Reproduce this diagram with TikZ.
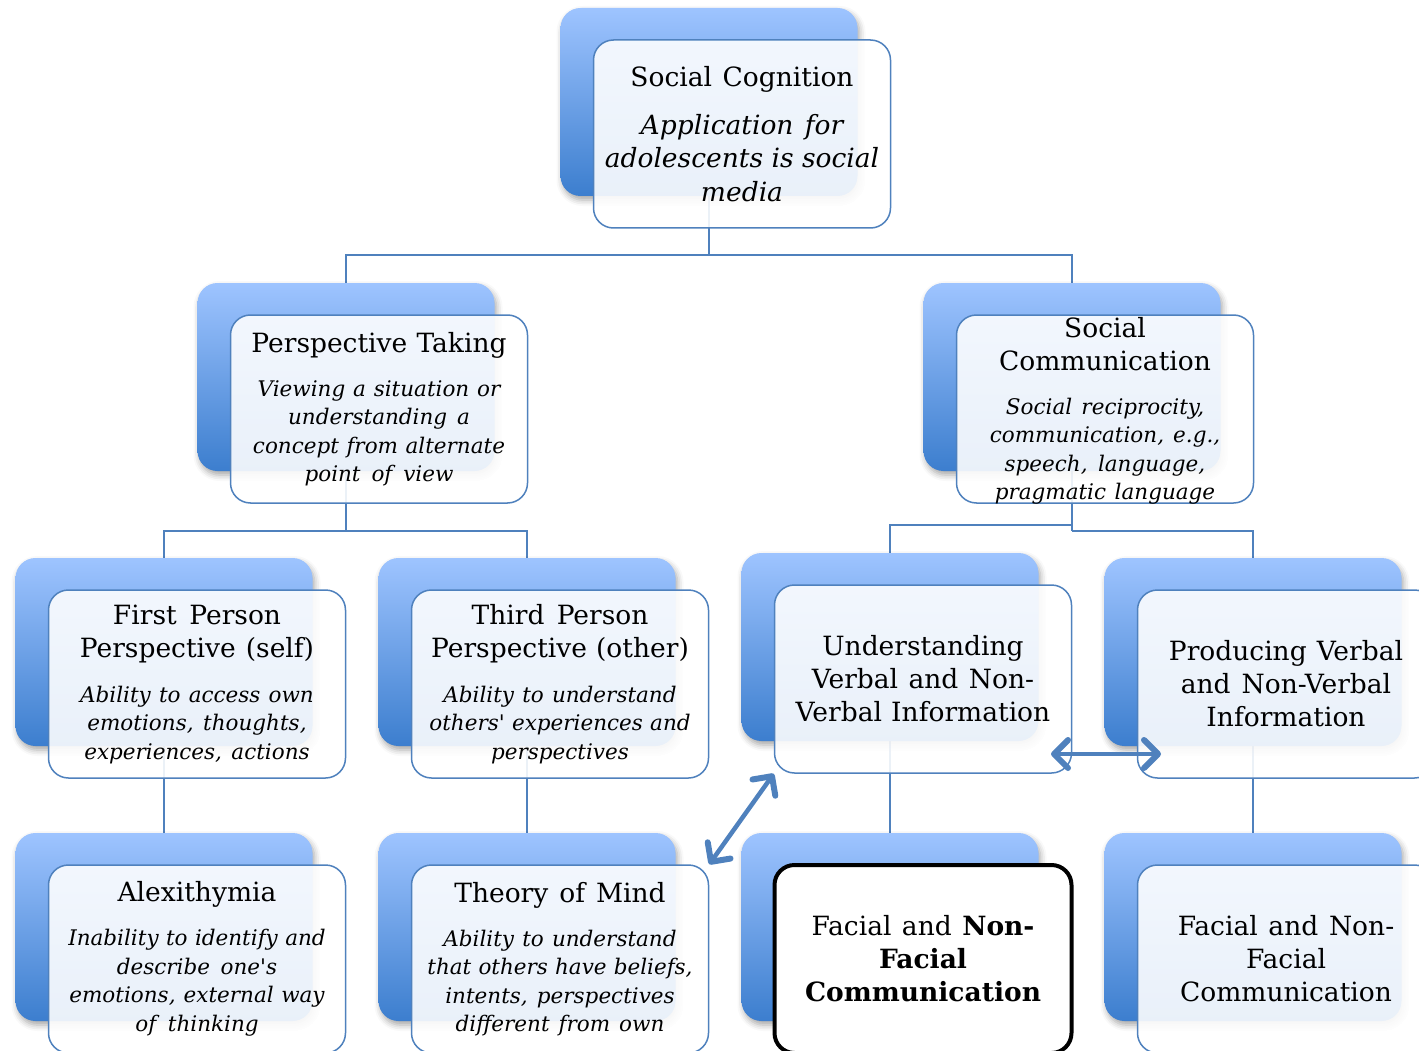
\documentclass[tikz,border=0pt]{standalone}
\usepackage{fontspec}
\setmainfont{DejaVu Serif}
\usetikzlibrary{arrows.meta,calc,shadows.blur}
\definecolor{lineblue}{RGB}{79,129,189}
\definecolor{backtop}{RGB}{158,196,255}
\definecolor{backbot}{RGB}{60,126,206}
\pgfdeclarelayer{bg}
\pgfsetlayers{bg,main}

\tikzset{
  card/.style={rectangle, rounded corners=20pt, minimum width=297pt,
    minimum height=188pt, inner sep=0pt},
  backbox/.style={card, top color=backtop, bottom color=backbot, draw=none,
    blur shadow={shadow xshift=2pt, shadow yshift=-4pt,
      shadow blur radius=6pt, shadow opacity=35}},
  frontbox/.style={card, fill=white, fill opacity=0.89, draw=lineblue,
    line width=1.5pt},
  boldbox/.style={card, fill=white, draw=black, line width=4pt},
  txt/.style={text width=340pt, align=center, inner sep=0pt, text=black},
  conn/.style={draw=lineblue, line width=2pt},
  barb/.tip={Straight Barb[length=14pt,width=28pt,line width=6pt,round]},
  dblarrow/.style={draw=lineblue, line width=4.5pt, line cap=round, barb-barb}
}

% title and description text of a card
\newcommand{\wordgap}{\spaceskip=0.22em plus 0.06em minus 0.03em\relax}
\newcommand{\ttl}[1]{{\fontsize{26.5}{33}\selectfont\wordgap #1\par}}
\newcommand{\dsc}[1]{{\fontsize{21.5}{28.5}\selectfont\itshape\wordgap #1\par}}
\newcommand{\dscbig}[1]{{\fontsize{26.5}{33.5}\selectfont\itshape\wordgap #1\par}}

% a blue back card with a light card laid over it
\newcommand{\cardpair}[4]{%
  \node[backbox] (#1B) at (#2,#3) {};
  \node[#4] (#1F) at ($(#1B.center)+(33,32)$) {};}

\begin{document}
\begin{tikzpicture}[x=1pt,y=-1pt]
\useasboundingbox (0,0) rectangle (1419,1051);
\clip (0,0) rectangle (1419,1051);

% cards
\cardpair{sc}{709}{102}{frontbox}
\cardpair{pt}{346}{377}{frontbox}
\cardpair{cm}{1072}{377}{frontbox}
\cardpair{fp}{164}{652}{frontbox}
\cardpair{tp}{527}{652}{frontbox}
\cardpair{uv}{890}{647}{frontbox}
\cardpair{pv}{1253}{652}{frontbox}
\cardpair{al}{164}{927}{frontbox}
\cardpair{tm}{527}{927}{frontbox}
\cardpair{fn}{890}{927}{boldbox}
\cardpair{fr}{1253}{927}{frontbox}

% texts
\node[txt] (scT) at (scF.center) {\ttl{Social Cognition}\vskip 14.5pt
  \dscbig{Application for\\adolescents is social\\media}};
\node[txt] (ptT) at (ptF.center) {\ttl{Perspective Taking}\vskip 15.5pt
  \dsc{Viewing a situation or\\understanding a\\concept from alternate\\point of view}};
\node[txt] (cmT) at ($(cmF.center)+(0,2)$) {\ttl{Social\\Communication}\vskip 15.5pt
  \dsc{Social reciprocity,\\communication, e.g.,\\speech, language,\\pragmatic language}};
\node[txt] (fpT) at (fpF.center) {\ttl{First Person\\Perspective (self)}\vskip 16.5pt
  \dsc{Ability to access own\\emotions, thoughts,\\experiences, actions}};
\node[txt] (tpT) at (tpF.center) {\ttl{Third Person\\Perspective (other)}\vskip 16.5pt
  \dsc{Ability to understand\\others\textquotesingle{} experiences and\\perspectives}};
\node[txt] (uvT) at (uvF.center) {\ttl{Understanding\\Verbal and Non-\\Verbal Information}};
\node[txt] (pvT) at (pvF.center) {\ttl{Producing Verbal\\and Non-Verbal\\Information}};
\node[txt] (alT) at (alF.center) {\ttl{Alexithymia}\vskip 15.5pt
  \dsc{Inability to identify and\\describe one\textquotesingle s\\emotions, external way\\of thinking}};
\node[txt] (tmT) at (tmF.center) {\ttl{Theory of Mind}\vskip 15.5pt
  \dsc{Ability to understand\\that others have beliefs,\\intents, perspectives\\different from own}};
\node[txt] (fnT) at (fnF.center) {\ttl{Facial and \textbf{Non-}\\\textbf{Facial}\\\textbf{Communication}}};
\node[txt] (frT) at (frF.center) {\ttl{Facial and Non-\\Facial\\Communication}};

% tree connectors, behind the cards
\begin{pgfonlayer}{bg}
  \draw[conn] (scB.south) -- ++(0,59) coordinate (j1);
  \draw[conn] (j1) -| (ptB.north);
  \draw[conn] (j1) -| (cmB.north);
  \draw[conn] (ptB.south) -- ++(0,60) coordinate (j2);
  \draw[conn] (j2) -| (fpB.north);
  \draw[conn] (j2) -| (tpB.north);
  \draw[conn] (cmB.south) -- ++(0,60) coordinate (j3);
  \draw[conn] (cmB.south) ++(0,54) coordinate (j4) -| (uvB.north);
  \draw[conn] (j3) -| (pvB.north);
  \draw[conn] (fpB.south) -- (alB.north);
  \draw[conn] (tpB.south) -- (tmB.north);
  \draw[conn] (uvB.south) -- (fnB.north);
  \draw[conn] (pvB.south) -- (frB.north);
\end{pgfonlayer}

% two-way links
\coordinate (a2l) at (1051,754);
\coordinate (a2r) at (1161,754);
\draw[dblarrow] (uvF.south west) -- (tmF.north east);
\draw[dblarrow] (a2l) -- (a2r);
\end{tikzpicture}
\end{document}
